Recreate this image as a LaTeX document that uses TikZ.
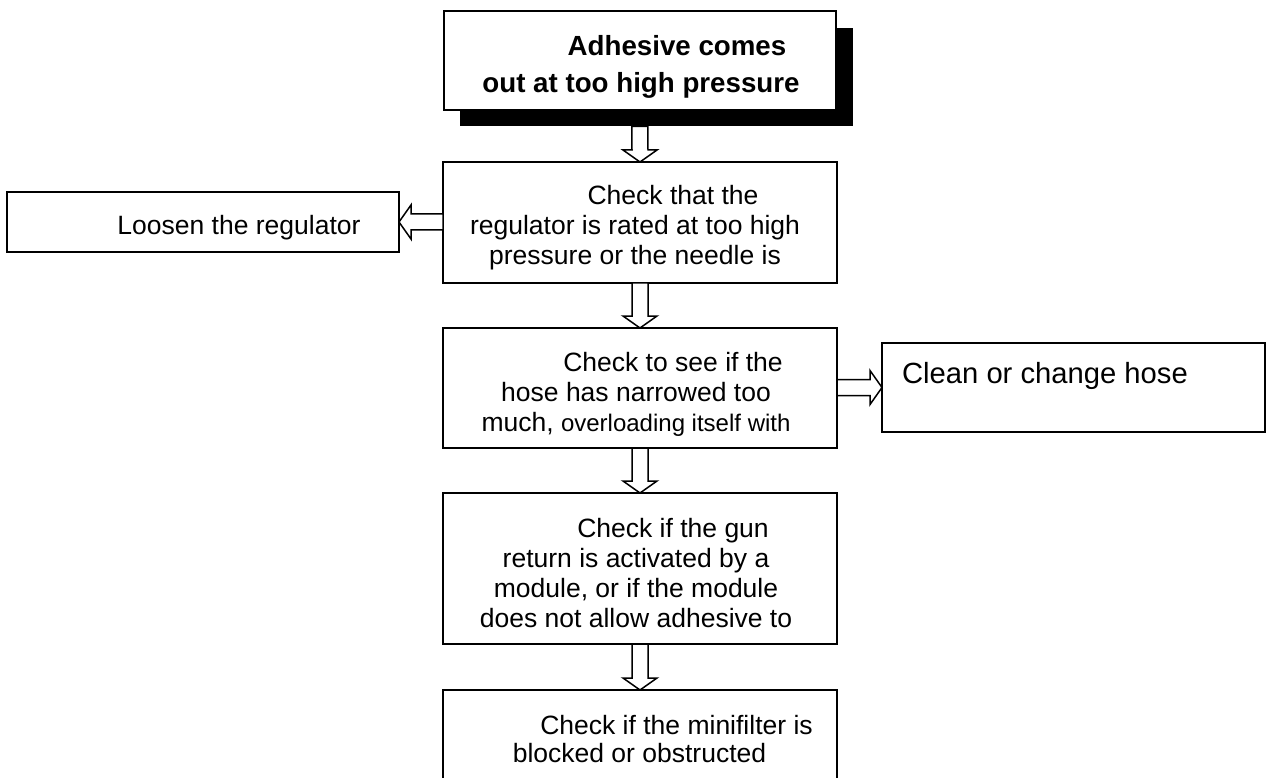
\documentclass[tikz,border=0pt]{standalone}
\usepackage{fontspec}
\setmainfont{Liberation Sans}
\usetikzlibrary{calc,shadows}

% hollow block arrows between two points (shaft 16pt, head 34pt wide, 12pt long)
\newcommand\flowdown[2]{\draw[flowarrow] ($(#1)+(-8,0)$) -- ($(#2)+(-8,12)$) -- ($(#2)+(-17,12)$) -- (#2)
  -- ($(#2)+(17,12)$) -- ($(#2)+(8,12)$) -- ($(#1)+(8,0)$) -- cycle;}
\newcommand\flowleft[2]{\draw[flowarrow] ($(#1)+(0,8)$) -- ($(#2)+(12,8)$) -- ($(#2)+(12,17)$) -- (#2)
  -- ($(#2)+(12,-17)$) -- ($(#2)+(12,-8)$) -- ($(#1)+(0,-8)$) -- cycle;}
\newcommand\flowright[2]{\draw[flowarrow] ($(#1)+(0,8)$) -- ($(#2)+(-12,8)$) -- ($(#2)+(-12,17)$) -- (#2)
  -- ($(#2)+(-12,-17)$) -- ($(#2)+(-12,-8)$) -- ($(#1)+(0,-8)$) -- cycle;}

\begin{document}
\begin{tikzpicture}[x=1pt,y=1pt,
  box/.style={draw, line width=1.6pt, fill=white, rectangle, inner sep=0pt, outer sep=0pt},
  txt/.style={inner sep=0pt, outer sep=0pt, align=center, font=\fontsize{26.5}{30}\selectfont},
  flowarrow/.style={line width=1.5pt, fill=white, line join=miter}]
\useasboundingbox (0,0) rectangle (1267,-778);
\clip (0,0) rectangle (1267,-778);
\fill[white] (0,0) rectangle (1267,-778);

% boxes
\node[box, line width=2pt, minimum width=392.5pt, minimum height=98.5pt,
  drop shadow={shadow xshift=16.5pt, shadow yshift=-16.5pt, fill=black, opacity=1}]
  (start) at (639.75,-60.75) {};
\node[box, minimum width=394pt, minimum height=121pt] (check1) at (640,-222.5) {};
\node[box, minimum width=392pt, minimum height=60pt] (loosen) at (203,-222) {};
\node[box, minimum width=394pt, minimum height=120pt] (check2) at (640,-388) {};
\node[box, minimum width=383pt, minimum height=89pt] (clean) at (1073.5,-387.5) {};
\node[box, minimum width=394pt, minimum height=151pt] (check3) at (640,-568.5) {};
\node[box, minimum width=394pt, minimum height=110pt] (check4) at (640,-745) {};

% texts
\node[txt, font=\bfseries\fontsize{27.7}{37}\selectfont, anchor=north] (starttext) at (641,-35)
  {\hspace*{72pt}Adhesive comes\\out at too high pressure};
\node[txt, anchor=north] (check1text) at (635,-185.5)
  {\hspace*{76pt}Check that the\\regulator is rated at too high\\pressure or the needle is};
\node[txt, anchor=base] (loosentext) at (239,-235) {Loosen the regulator};
\node[txt, anchor=north] (check2text) at (636,-352.5)
  {\hspace*{74pt}Check to see if the\\hose has narrowed too\\much, {\fontsize{24}{30}\selectfont overloading itself with}};
\node[txt, font=\fontsize{29.2}{34}\selectfont, anchor=base] (cleantext) at (1045,-383) {Clean or change hose};
\node[txt, anchor=north] (check3text) at (636,-518.5)
  {\hspace*{74pt}Check if the gun\\return is activated by a\\module, or if the module\\does not allow adhesive to};
\node[txt, font=\fontsize{26.5}{28}\selectfont, anchor=north] (check4text) at (639.5,-715.5)
  {\hspace*{74pt}Check if the minifilter is\\blocked or obstructed};

% connectors
\coordinate (shadowbottom) at ($(start.south)+(0,-16.5)$);
\coordinate (leftstart) at (check1.west |- loosen.east);
\coordinate (rightstart) at (check2.east |- clean.west);
\flowdown{shadowbottom}{check1.north}
\flowleft{leftstart}{loosen.east}
\flowdown{check1.south}{check2.north}
\flowright{rightstart}{clean.west}
\flowdown{check2.south}{check3.north}
\flowdown{check3.south}{check4.north}
\end{tikzpicture}
\end{document}
